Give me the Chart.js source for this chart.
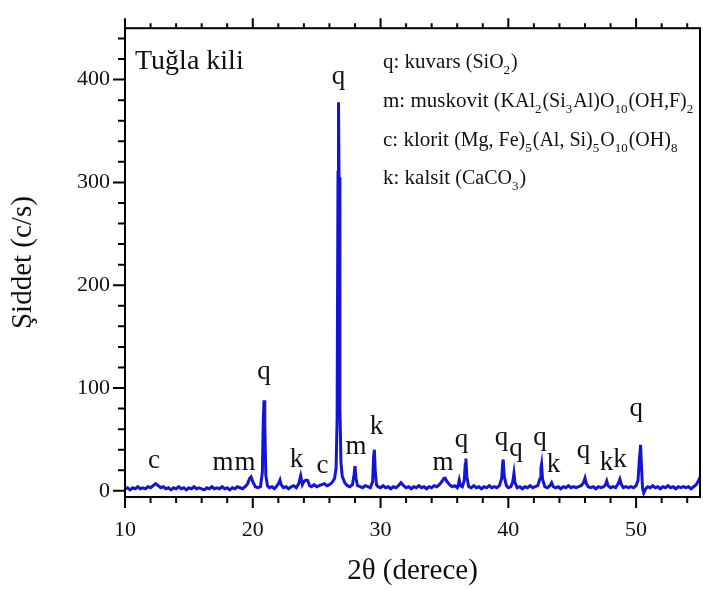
<!DOCTYPE html>
<html>
<head>
<meta charset="utf-8">
<script src="https://cdn.jsdelivr.net/npm/chart.js@4"></script>
<style>
  html, body { margin: 0; padding: 0; background: #fff; }
  canvas { display: block; }
</style>
</head>
<body>
<canvas id="xrd" width="703" height="590"></canvas>
<script>
// 2θ (derece) values
const angles = [
  10.0, 10.2, 10.4, 10.6, 10.8, 11.0, 11.2, 11.4, 11.6, 11.8,
  12.0, 12.2, 12.4, 12.6, 12.8, 13.0, 13.2, 13.4, 13.6, 13.8,
  14.0, 14.2, 14.4, 14.6, 14.8, 15.0, 15.2, 15.4, 15.6, 15.8,
  16.0, 16.2, 16.4, 16.6, 16.8, 17.0, 17.2, 17.4, 17.6, 17.8,
  18.0, 18.2, 18.4, 18.6, 18.8, 19.0, 19.2, 19.4, 19.6, 19.75,
  19.86, 20.0, 20.2, 20.4, 20.6, 20.75, 20.82, 20.88, 20.94, 21.02,
  21.15, 21.3, 21.5, 21.7, 21.9, 22.05, 22.13, 22.22, 22.4, 22.6,
  22.8, 23.0, 23.2, 23.4, 23.6, 23.75, 23.88, 24.0, 24.15, 24.3,
  24.45, 24.6, 24.8, 25.0, 25.2, 25.4, 25.6, 25.8, 26.0, 26.2,
  26.4, 26.52, 26.6, 26.67, 26.71, 26.75, 26.82, 26.9, 27.0, 27.2,
  27.4, 27.6, 27.8, 27.93, 28.0, 28.08, 28.2, 28.4, 28.6, 28.8,
  29.0, 29.2, 29.38, 29.46, 29.52, 29.58, 29.68, 29.8, 30.0, 30.2,
  30.4, 30.6, 30.8, 31.0, 31.2, 31.4, 31.6, 31.8, 32.0, 32.2,
  32.4, 32.6, 32.8, 33.0, 33.2, 33.4, 33.6, 33.8, 34.0, 34.2,
  34.4, 34.6, 34.8, 34.95, 35.05, 35.2, 35.4, 35.6, 35.8, 36.0,
  36.1, 36.16, 36.25, 36.4, 36.55, 36.63, 36.68, 36.75, 36.9, 37.1,
  37.3, 37.5, 37.7, 37.9, 38.1, 38.3, 38.5, 38.7, 38.9, 39.1,
  39.3, 39.48, 39.55, 39.6, 39.68, 39.85, 40.0, 40.2, 40.35, 40.44,
  40.52, 40.7, 40.9, 41.1, 41.3, 41.5, 41.7, 41.9, 42.1, 42.3,
  42.48, 42.55, 42.6, 42.68, 42.85, 43.05, 43.25, 43.39, 43.52, 43.7,
  43.9, 44.1, 44.3, 44.5, 44.7, 44.9, 45.1, 45.3, 45.5, 45.7,
  45.88, 46.0, 46.1, 46.25, 46.45, 46.65, 46.85, 47.05, 47.25, 47.45,
  47.6, 47.7, 47.8, 48.0, 48.2, 48.4, 48.6, 48.73, 48.85, 49.0,
  49.2, 49.4, 49.6, 49.8, 50.0, 50.15, 50.25, 50.35, 50.42, 50.5,
  50.6, 50.75, 50.9, 51.1, 51.3, 51.5, 51.7, 51.9, 52.1, 52.3,
  52.5, 52.7, 52.9, 53.1, 53.3, 53.5, 53.7, 53.9, 54.1, 54.3,
  54.5, 54.7, 54.85, 55.0
];

// Şiddet (c/s), same order as angles
const counts = [
  2, 3, 1, 3, 2, 4, 2, 3, 2, 4,
  3, 5, 7, 5, 3, 4, 2, 3, 1, 3,
  2, 4, 2, 3, 1, 3, 2, 4, 2, 3,
  2, 1, 3, 2, 4, 2, 3, 2, 4, 2,
  3, 1, 3, 2, 4, 3, 2, 4, 7, 12,
  13.6, 9, 4, 3, 4, 18, 68, 88, 65, 15,
  5, 3, 4, 2, 5, 8, 10.5, 6, 3, 4,
  2, 4, 5, 3, 7, 14.6, 6, 9, 10.5, 10,
  5, 4, 6, 4, 5, 6, 7, 5, 6, 8,
  12, 22, 70, 310, 378, 305, 80, 28, 14, 8,
  5, 4, 6, 16, 24, 12, 5, 4, 3, 5,
  4, 3, 9, 34, 40, 20, 6, 4, 3, 5,
  3, 4, 2, 4, 3, 5, 8, 5, 3, 4,
  2, 4, 3, 5, 3, 4, 2, 4, 3, 5,
  4, 6, 9, 12, 12.4, 9, 6, 4, 5, 3,
  7, 10.5, 5, 4, 10, 26, 31.4, 14, 4, 3,
  5, 3, 4, 2, 4, 3, 5, 3, 4, 3,
  5, 12, 26, 30.5, 14, 5, 3, 4, 9, 17,
  8, 3, 4, 2, 4, 3, 5, 3, 4, 5,
  12, 22, 25.7, 11, 4, 3, 5, 8, 4, 3,
  4, 2, 4, 3, 5, 3, 4, 3, 4, 5,
  8, 12.4, 7, 4, 3, 4, 2, 4, 3, 4,
  6, 9.5, 5, 3, 4, 3, 7, 11.4, 6, 3,
  4, 3, 4, 3, 5, 10, 30, 44.7, 24, 3,
  -2, 2, 4, 3, 5, 3, 4, 2, 4, 3,
  5, 3, 4, 2, 4, 3, 4, 3, 4, 2,
  4, 6, 9, 13
];

// phase letters over the peaks (x in 2θ, y = text baseline in c/s)
const peakText = ["c", "m", "m", "q", "k", "c", "q", "m", "k", "m",
                  "q", "q", "q", "q", "k", "q", "k", "k", "q"];
const peakX = [12.27, 17.67, 19.4, 20.88, 23.42, 25.45, 26.71, 28.08, 29.68, 34.88,
               36.33, 39.46, 40.6, 42.47, 43.53, 45.88, 47.68, 48.73, 50.02];
const peakY = [21.9, 20, 20, 108.5, 22.8, 17.1, 395.5, 36.2, 55.2, 20,
               42.8, 44.7, 34.3, 44.7, 18.1, 32.4, 20, 22.8, 72.4];

const xLabels = [10, 20, 30, 40, 50];
const yLabels = [0, 100, 200, 300, 400];

const sampleName = "Tuğla kili";
// legend lines: [text, style]  style: b = name, f = formula, s = subscript
const legendLines = [
  [["q: kuvars ", "b"], ["(SiO", "f"], ["2", "s"], [")", "f"]],
  [["m: muskovit ", "b"], ["(KAl", "f"], ["2", "s"], ["(Si", "f"], ["3", "s"],
   ["Al)O", "f"], ["10", "s"], ["(OH,F)", "f"], ["2", "s"]],
  [["c: klorit ", "b"], ["(Mg, Fe)", "f"], ["5", "s"], ["(Al, Si)", "f"], ["5", "s"],
   ["O", "f"], ["10", "s"], ["(OH)", "f"], ["8", "s"]],
  [["k: kalsit ", "b"], ["(CaCO", "f"], ["3", "s"], [")", "f"]]
];

const SERIF = '"Liberation Serif", "Times New Roman", serif';
const INK = "#111";

const frameAndTicks = {
  id: "frameAndTicks",
  afterDatasetsDraw(chart) {
    const { ctx, chartArea: a } = chart;
    const xs = chart.scales.x, ys = chart.scales.y;
    ctx.save();
    ctx.strokeStyle = "#000";
    ctx.lineWidth = 2;
    ctx.strokeRect(a.left, a.top, a.right - a.left, a.bottom - a.top);
    ctx.beginPath();
    for (let v = 10; v < 55; v += 2) {
      const px = xs.getPixelForValue(v);
      const major = v % 10 === 0;
      ctx.moveTo(px, a.bottom); ctx.lineTo(px, a.bottom + (major ? 11 : 6));
      ctx.moveTo(px, a.top); ctx.lineTo(px, a.top - (major ? 10 : 5));
    }
    for (let v = 0; v <= 440; v += 20) {
      const py = ys.getPixelForValue(v);
      ctx.moveTo(a.left, py); ctx.lineTo(a.left - (v % 100 === 0 ? 12 : 7), py);
    }
    ctx.stroke();
    ctx.restore();
  },
  afterDraw(chart) {
    const { ctx, chartArea: a } = chart;
    const xs = chart.scales.x, ys = chart.scales.y;
    ctx.save();
    ctx.fillStyle = INK;
    ctx.textBaseline = "alphabetic";

    // peak letters
    ctx.font = "27px " + SERIF;
    ctx.textAlign = "center";
    peakText.forEach((t, i) => {
      ctx.fillText(t, xs.getPixelForValue(peakX[i]), ys.getPixelForValue(peakY[i]));
    });

    // sample name
    ctx.textAlign = "left";
    ctx.font = "28px " + SERIF;
    ctx.fillText(sampleName, a.left + 10, a.top + 41);

    // phase legend
    const fonts = { b: "21px " + SERIF, f: "20px " + SERIF, s: "13px " + SERIF };
    legendLines.forEach((line, i) => {
      let x = a.left + 258;
      const base = a.top + 40 + i * 38.7;
      line.forEach(([txt, st]) => {
        ctx.font = fonts[st];
        const y = st === "s" ? base + 6 : base;
        ctx.fillText(txt, x, y);
        x += ctx.measureText(txt).width + (st === "s" ? 1 : 0);
      });
    });
    ctx.restore();
  }
};

new Chart(document.getElementById("xrd"), {
  type: "line",
  data: {
    datasets: [{
      data: angles.map((a, i) => ({ x: a, y: counts[i] })),
      borderColor: "#1414d6",
      borderWidth: 3,
      pointRadius: 0,
      tension: 0,
      fill: false
    }]
  },
  options: {
    responsive: false,
    animation: false,
    devicePixelRatio: 1,
    layout: { padding: { top: 18, right: 3, left: 0, bottom: 0 } },
    plugins: { legend: { display: false }, tooltip: { enabled: false } },
    scales: {
      x: {
        type: "linear",
        min: 10,
        max: 55,
        afterBuildTicks: s => { s.ticks = xLabels.map(v => ({ value: v })); },
        afterFit: s => { s.height = 93; },
        grid: { display: false, drawTicks: false },
        border: { display: false },
        ticks: { font: { family: SERIF, size: 22 }, color: INK, padding: 20, autoSkip: false, maxRotation: 0 },
        title: { display: true, text: "2θ (derece)", color: INK,
                 font: { family: SERIF, size: 29 }, padding: { top: 0, bottom: 1 } }
      },
      y: {
        min: -6,
        max: 450,
        afterBuildTicks: s => { s.ticks = yLabels.map(v => ({ value: v })); },
        afterFit: s => { s.width = 125; },
        grid: { display: false, drawTicks: false },
        border: { display: false },
        ticks: { font: { family: SERIF, size: 22 }, color: INK, padding: 15, autoSkip: false },
        title: { display: true, text: "Şiddet (c/s)", color: INK,
                 font: { family: SERIF, size: 29 }, padding: { top: 6, bottom: 0 } }
      }
    }
  },
  plugins: [frameAndTicks]
});
</script>
</body>
</html>
